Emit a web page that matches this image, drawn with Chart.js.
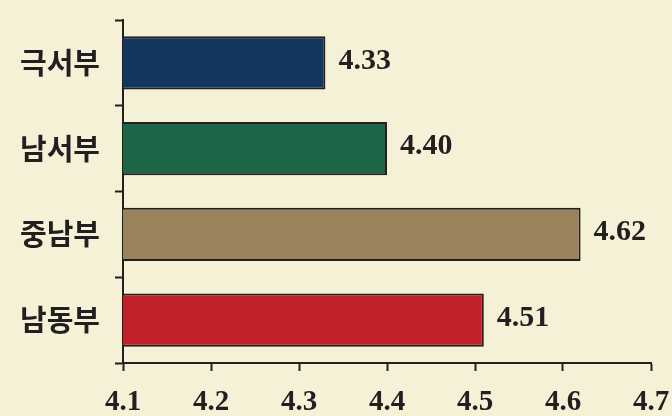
<!DOCTYPE html>
<html>
<head>
<meta charset="utf-8">
<script src="https://cdn.jsdelivr.net/npm/chart.js@4/dist/chart.umd.min.js"></script>
<style>
  html, body { margin: 0; padding: 0; background: #f5f1d6; }
  #wrap { width: 672px; height: 416px; }
</style>
</head>
<body>
<div id="wrap"><canvas id="barChart" width="672" height="416"></canvas></div>
<script>
const regions = ['극서부', '남서부', '중남부', '남동부']
const scores = [4.33, 4.40, 4.62, 4.51]
const barColors = ['#12365c', '#1e6548', '#98835a', '#bf2229']
const xTicks = [4.1, 4.2, 4.3, 4.4, 4.5, 4.6, 4.7]

const serif = '"Liberation Serif", "DejaVu Serif", serif'
const korean = '"Noto Sans CJK KR", "Noto Sans", sans-serif'
const ink = '#231f20'

// 막대 끝에 값 표시
const valueLabels = {
    id: 'valueLabels',
    afterDatasetsDraw(chart) {
        const c = chart.ctx
        const meta = chart.getDatasetMeta(0)
        c.save()
        c.fillStyle = ink
        c.font = 'bold 30px ' + serif
        c.textAlign = 'left'
        c.textBaseline = 'middle'
        meta.data.forEach((bar, i) => {
            c.fillText(scores[i].toFixed(2), bar.x + 13, bar.y - 2)
        })
        c.restore()
    }
}

const bgFill = {
    id: 'bgFill',
    beforeDraw(chart) {
        const c = chart.ctx
        c.save()
        c.fillStyle = '#f5f1d6'
        c.fillRect(0, 0, chart.width, chart.height)
        c.restore()
    }
}

let ctx = document.querySelector('#barChart').getContext('2d')

let chart = new Chart(ctx, {
    type: 'bar',
    data: {
        labels: regions,
        datasets: [{
            data: scores,
            backgroundColor: barColors,
            borderColor: ink,
            borderWidth: 2,
            borderSkipped: 'start',
            categoryPercentage: 1,
            barPercentage: 0.62
        }]
    },
    options: {
        indexAxis: 'y',
        responsive: false,
        animation: false,
        layout: { padding: { top: 20, right: 21, left: 0, bottom: 0 } },
        plugins: { legend: { display: false }, tooltip: { enabled: false } },
        scales: {
            x: {
                min: 4.1,
                max: 4.7,
                afterBuildTicks(scale) { scale.ticks = xTicks.map(v => ({ value: v })) },
                afterFit(scale) {
                    scale.height = 53
                    scale.paddingLeft = 0
                    scale.paddingRight = 0
                },
                border: { display: true, color: ink, width: 2 },
                grid: { drawOnChartArea: false, drawTicks: true, tickLength: 8, tickWidth: 2, tickColor: ink },
                ticks: {
                    color: ink,
                    padding: 14,
                    maxRotation: 0,
                    font: { family: serif, size: 29, weight: 'bold' },
                    callback: v => Number(v).toFixed(1)
                }
            },
            y: {
                afterFit(scale) {
                    scale.width = 123
                    scale.paddingTop = 0
                    scale.paddingBottom = 0
                },
                border: { display: true, color: ink, width: 2 },
                grid: { offset: true, drawOnChartArea: false, tickLength: 8, tickWidth: 2, tickColor: ink },
                ticks: {
                    color: ink,
                    padding: 15,
                    font: { family: korean, size: 29, weight: 'bold' }
                }
            }
        }
    },
    plugins: [bgFill, valueLabels]
})
</script>
</body>
</html>
